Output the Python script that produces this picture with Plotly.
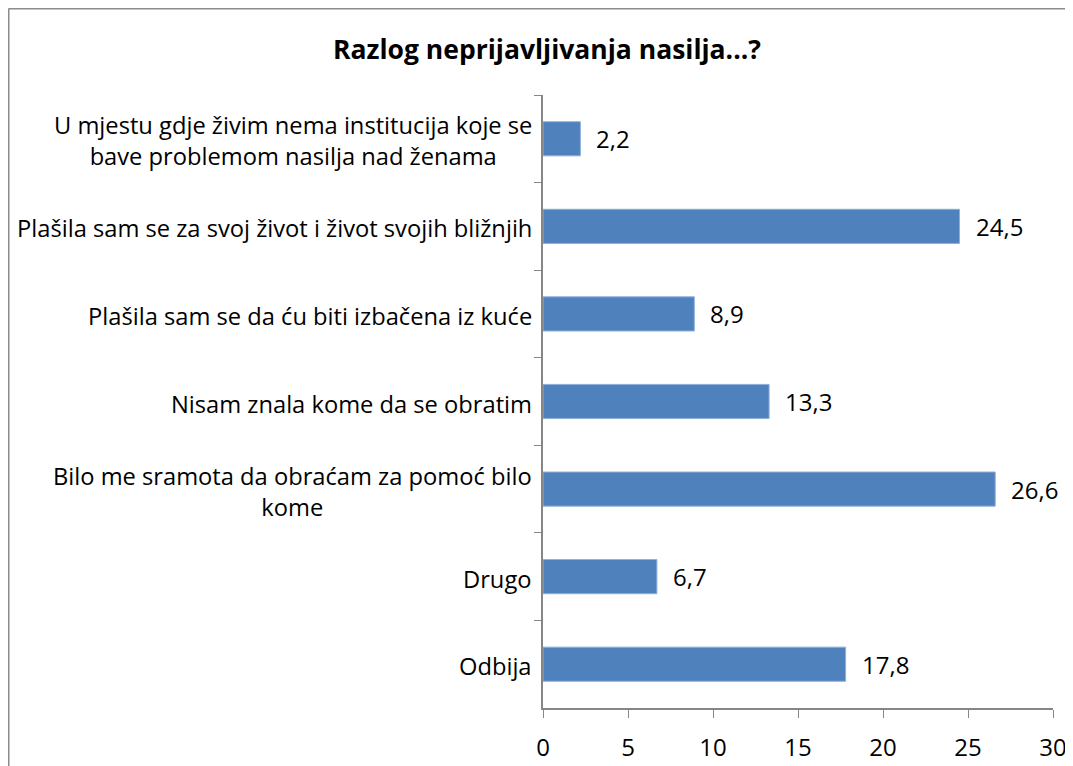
import plotly.graph_objects as go

categories = [
    "U mjestu gdje živim nema institucija koje se<br>bave problemom nasilja nad ženama",
    "Plašila sam se za svoj život i život svojih bližnjih",
    "Plašila sam se da ću biti izbačena iz kuće",
    "Nisam znala kome da se obratim",
    "Bilo me sramota da obraćam za pomoć bilo<br>kome",
    "Drugo",
    "Odbija",
]
values = [2.2, 24.5, 8.9, 13.3, 26.6, 6.7, 17.8]
x_ticks = [0, 5, 10, 15, 20, 25, 30]
title_text = "Razlog neprijavljivanja nasilja...?"

FONT = "Open Sans"
OFF = 8  # default body margin of the html page
W, H = 1073 - OFF, 766 - OFF
L, R, T, B = 543 - OFF, 20, 95 - OFF, 58
pw, ph = W - L - R, H - T - B

fig = go.Figure()
fig.add_trace(go.Bar(
    y=categories, x=values, orientation="h",
    marker=dict(color="#4F81BD", line=dict(color="#8EB0DA", width=1)),
    width=0.39, hoverinfo="x+y",
))

annotations = []
for c, v in zip(categories, values):
    annotations.append(dict(
        x=v, y=c, xref="x", yref="y", text=f"{v:.1f}".replace(".", ","),
        xanchor="left", yanchor="middle", xshift=14, showarrow=False,
        font=dict(family=FONT, size=24, color="#000000"),
    ))
    annotations.append(dict(
        x=0, y=c, xref="paper", yref="y", text=c, align="center",
        xanchor="right", yanchor="middle", xshift=-9, yshift=-2, showarrow=False,
        font=dict(family=FONT, size=23.7, color="#000000"),
    ))

def px_to_paper_x(px):
    return (px - OFF - L) / pw

def px_to_paper_y(py):
    return (H - B - (py - OFF)) / ph

shapes = [
    dict(type="line", xref="paper", yref="paper",
         x0=px_to_paper_x(8.5), x1=px_to_paper_x(8.5),
         y0=px_to_paper_y(8.5), y1=px_to_paper_y(790),
         line=dict(color="#8c8c8c", width=2)),
    dict(type="line", xref="paper", yref="paper",
         x0=px_to_paper_x(8.5), x1=px_to_paper_x(1100),
         y0=px_to_paper_y(8.5), y1=px_to_paper_y(8.5),
         line=dict(color="#8c8c8c", width=2)),
]

fig.update_layout(
    width=W, height=H,
    margin=dict(l=L, r=R, t=T, b=B, autoexpand=False),
    paper_bgcolor="white", plot_bgcolor="white",
    showlegend=False,
    title=dict(text=f"<b>{title_text}</b>", xref="container", yref="container",
               x=(547 - OFF) / W, y=1 - (50 - OFF) / H, xanchor="center", yanchor="middle",
               font=dict(family=FONT, size=26.5, color="#000000")),
    annotations=annotations, shapes=shapes,
    xaxis=dict(range=[0, 30], tickvals=x_ticks, ticks="outside", ticklen=8,
               tickcolor="#868686", showline=True, linecolor="#868686", linewidth=1.5,
               showgrid=False, zeroline=False, ticklabelstandoff=9,
               tickfont=dict(family=FONT, size=24, color="#000000")),
    yaxis=dict(categoryorder="array", categoryarray=categories, autorange="reversed",
               showticklabels=False, ticks="outside", ticklen=7, tickson="boundaries",
               tickcolor="#868686", showline=True, linecolor="#868686", linewidth=1.5,
               showgrid=False, zeroline=False),
    bargap=0.6,
)

fig.write_html("out.html")
